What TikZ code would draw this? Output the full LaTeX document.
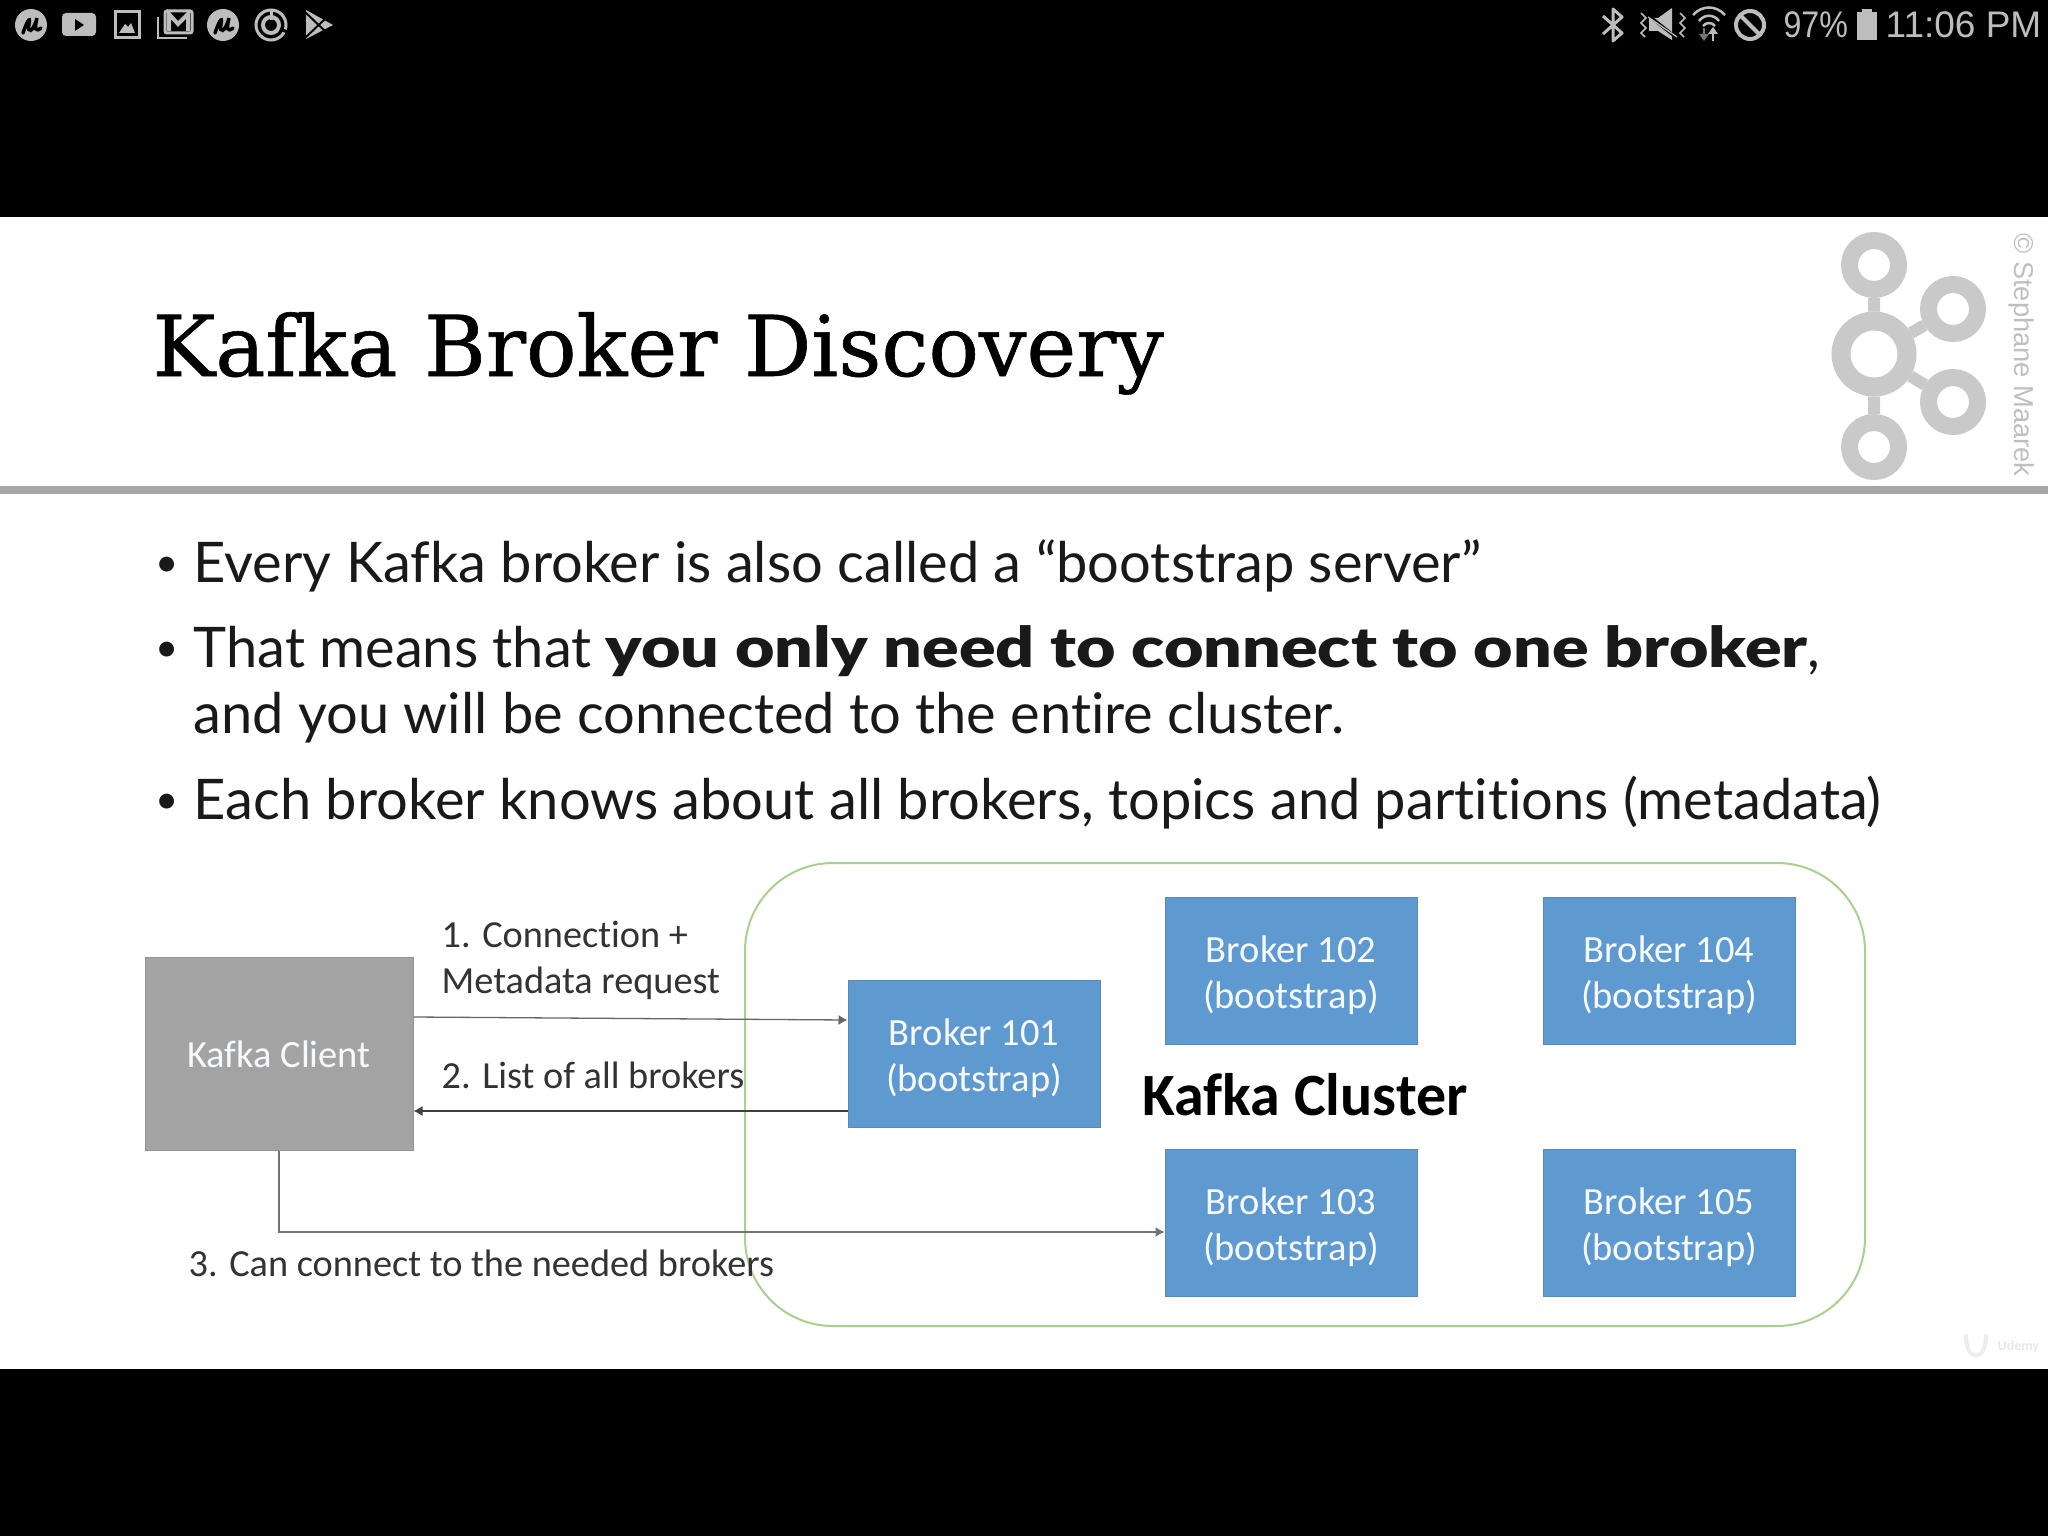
\documentclass[tikz,border=0pt]{standalone}
\usepackage{fontspec}
\setmainfont[Ligatures=CommonOff]{Carlito}
\newfontfamily\slidefont[Ligatures=CommonOff]{Lato}
\newfontfamily\slideblack[Ligatures=CommonOff,FakeStretch=1.215]{Lato Black}
\newfontfamily\titlefont[FakeBold=0.7]{DejaVu Serif}
\newfontfamily\phonefont{Liberation Sans}
\usetikzlibrary{arrows.meta}
\definecolor{barblue}{HTML}{5E99D0}
\definecolor{bargray}{HTML}{A3A3A3}
\definecolor{bargreen}{HTML}{A9D18E}
\definecolor{logogray}{HTML}{C9C9C9}
\definecolor{statusgray}{HTML}{BDBDBD}
\newcommand{\ulogo}[1]{
    \fill [statusgray, xshift=#1] (31,25) circle (16pt);
    \draw [black, line width=3.5pt, line cap=round, xshift=#1] (23,33) .. controls (26,24) and (31,14) .. (29,24) .. controls (27,34) and (33,33) .. (37,18) .. controls (34,30) and (36,32) .. (41,28);
}
\newcommand{\brokerlabel}[1]{\rule{0pt}{36pt}Broker #1\\(bootstrap)}
\tikzset{
    broker/.style={rectangle, fill=barblue, draw=barblue!90!black, line width=1pt, minimum width=252pt, minimum height=147pt,
        align=center, text=white!95!barblue, font=\fontsize{38.5}{46}\selectfont, inner sep=0pt},
    label/.style={anchor=base west, inner sep=0pt, text=black!80, font=\fontsize{38.3}{46}\selectfont},
    bullet/.style={anchor=base west, inner sep=0pt, text=black!90, font=\slidefont\fontsize{56}{60}\selectfont},
    dotmark/.style={anchor=base west, inner sep=0pt, text=black!90, font=\slidefont\fontsize{40}{40}\selectfont},
    phone/.style={anchor=base west, inner sep=0pt, text=statusgray, font=\phonefont\fontsize{37}{40}\selectfont},
    bigring/.style={circle, draw=logogray, line width=19pt, minimum size=66pt, inner sep=0pt},
    ring/.style={circle, draw=logogray, line width=17pt, minimum size=49pt, inner sep=0pt},
}
\begin{document}
\begin{tikzpicture}[x=1pt,y=-1pt,-{Latex[length=9pt,width=10pt]},line width=1.3pt,node distance=378pt]
    \useasboundingbox (0,0) rectangle (2048,1536);
    \fill [black, -] (0,0) rectangle (2048,1536);
    \fill [white, -] (0,217) rectangle (2048,1369);

    % status bar
    \begin{scope}[-, statusgray]
        \ulogo{0pt}
        \fill [rounded corners=4pt] (62,13) rectangle (96,36);
        \fill [black] (75,19) -- (84,25) -- (75,31) -- cycle;
        \draw [line width=3pt] (115,12) rectangle (139,38);
        \fill (119,33) -- (125,24) -- (128,27) -- (131,23) -- (135,33) -- cycle;
        \draw [line width=3pt, rounded corners=2pt] (165,11) rectangle (192,33);
        \draw [line width=4pt] (169,31) -- (169,14) -- (178,24) -- (188,14) -- (188,31);
        \draw [line width=2.5pt] (158,17) -- (158,38) -- (187,38);
        \ulogo{192pt}
        \draw [line width=3pt] (271,25) circle (15pt);
        \draw [line width=4pt] (271,25) circle (8pt);
        \draw [line width=3pt] (271,9) -- (271,20);
        \draw [black, line width=3pt] (280,29) -- (290,33);
        \fill (306,10) -- (333,25) -- (306,39) -- cycle;
        \draw [black, line width=2pt] (305,12) -- (326,32);
        \draw [black, line width=2pt] (305,38) -- (326,18);

        \draw [line width=3pt, line join=round] (1603,16) -- (1622,33) -- (1613,41) -- (1613,9) -- (1622,17) -- (1603,34);
        \fill (1649,18) -- (1658,18) -- (1672,8) -- (1672,40) -- (1658,31) -- (1649,31) -- cycle;
        \draw [black, line width=3pt] (1648,15) -- (1678,39);
        \draw (1648,17) -- (1677,37);
        \draw [line width=1.6pt] (1641,13) -- (1646,18) -- (1641,23) -- (1646,28) -- (1641,33) -- (1645,37);
        \draw [line width=1.6pt] (1680,13) -- (1685,18) -- (1680,23) -- (1685,28) -- (1680,33) -- (1684,37);
        \draw [line width=2.5pt] (1693,15) .. controls (1702,5) and (1716,5) .. (1725,15);
        \draw [line width=2.5pt] (1699,21) .. controls (1704,14) and (1714,14) .. (1719,21);
        \draw [line width=2.5pt] (1703,26) .. controls (1706,22) and (1712,22) .. (1715,26);
        \draw [black!55, line width=2.5pt] (1704,28) -- (1704,38);
        \fill [black!55] (1699,34) -- (1709,34) -- (1704,41) -- cycle;
        \draw [line width=2.5pt] (1713,31) -- (1713,41);
        \fill (1708,34) -- (1718,34) -- (1713,27) -- cycle;
        \draw [line width=4pt] (1750,25) circle (14pt);
        \draw [line width=4pt] (1740,15) -- (1760,35);
        \fill (1857,12) rectangle (1877,40);
        \fill (1862,9) rectangle (1872,13);
        \node [phone, xscale=0.87] (battery) at (1783,38) {97\%};
        \node [phone] (clock) at (1885,38) {11:06 PM};
    \end{scope}

    % title
    \node [anchor=base west, inner sep=0pt, font=\titlefont\fontsize{84}{86}\selectfont] (title) at (152,376) {Kafka Broker Discovery};
    \draw [-, color=black!35, line width=8pt] (0,490) -- (2048,490);

    % logo
    \begin{scope}[-]
        \node [bigring](hub) at (1874,354) {};
        \node [ring](top) at (1874,265) {};
        \node [ring](bottom) at (1874,447) {};
        \node [ring](upper) at (1953,309) {};
        \node [ring](lower) at (1953,402) {};
        \path [draw=logogray, line width=12pt]
            (hub) -- (top)
            (hub) -- (bottom)
            (hub) -- (upper)
            (hub) -- (lower);
    \end{scope}
    \node [rotate=-90, inner sep=0pt, text=black!25, font=\phonefont\fontsize{27.3}{30}\selectfont] (mark) at (2022,355) {© Stephane Maarek};

    % bullets
    \node [dotmark] (dot1) at (155,576) {•};
    \node [bullet] (line1) at (193,582) {Every Kafka broker is also called a “bootstrap server”};
    \node [dotmark] (dot2) at (155,661) {•};
    \node [bullet] (line2) at (193,667) {That means that {\slideblack you only need to connect to one broker},};
    \node [bullet] (line3) at (193,733) {and you will be connected to the entire cluster.};
    \node [dotmark] (dot3) at (155,813) {•};
    \node [bullet] (line4) at (193,819) {Each broker knows about all brokers, topics and partitions (metadata)};

    % diagram
    \node [-, rectangle, rounded corners=88pt, draw=bargreen, line width=2pt, minimum width=1120pt, minimum height=463pt] (cluster) at (1305,1094.5) {};
    \node [broker, fill=bargray, draw=bargray!90!black, minimum width=268pt, minimum height=193pt] (client) at (279,1054) {Kafka Client};
    \node [broker] (b101) at (974,1054) {\brokerlabel{101}};
    \node [broker] (b102) at (1291,971) {\brokerlabel{102}};
    \node [broker] (b104) [right of = b102] {\brokerlabel{104}};
    \node [broker] (b103) [below of = b102, node distance=252pt] {\brokerlabel{103}};
    \node [broker] (b105) [right of = b103] {\brokerlabel{105}};
    \node [inner sep=0pt, font=\bfseries\fontsize{60}{60}\selectfont] (name) at (1305,1095) {Kafka Cluster};

    \draw [black!60] (client.east |- 0,1017) -- (b101.west |- 0,1020);
    \draw [black!75] (b101.west |- 0,1111) -- (client.east |- 0,1111);
    \draw [black!55] (client.south) |- (b103.west |- 0,1232);

    \node [label] (one) at (441,947) {1. Connection +};
    \node [label] (meta) at (441,993) {Metadata request};
    \node [label] (two) at (441,1088) {2. List of all brokers};
    \node [label] (three) at (188,1276) {3. Can connect to the needed brokers};

    % udemy mark
    \draw [-, black!7, line width=4pt, line cap=round] (1966,1336) .. controls (1966,1362) and (1986,1362) .. (1986,1336);
    \node [anchor=west, inner sep=0pt, text=black!9, font=\bfseries\fontsize{14}{16}\selectfont] (udemy) at (1997,1347) {Udemy};
\end{tikzpicture}
\end{document}
